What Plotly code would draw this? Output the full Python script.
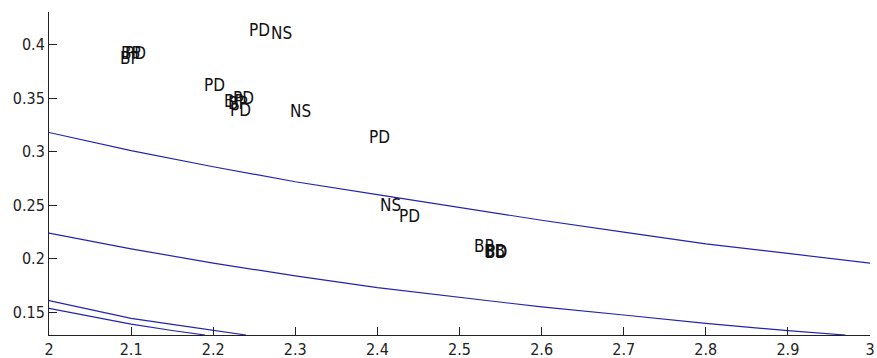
import plotly.graph_objects as go

# Curves
line1_x = [2.0, 2.1, 2.2, 2.3, 2.4, 2.5, 2.6, 2.7, 2.8, 2.9, 3.0]
line1_y = [0.318, 0.301, 0.286, 0.272, 0.260, 0.248, 0.236, 0.225, 0.214, 0.205, 0.196]

line2_x = [2.0, 2.1, 2.2, 2.3, 2.4, 2.5, 2.6, 2.7, 2.8, 2.9, 2.97]
line2_y = [0.224, 0.2093, 0.196, 0.184, 0.173, 0.164, 0.155, 0.1475, 0.1397, 0.1328, 0.1288]

line3_x = [2.0, 2.05, 2.1, 2.15, 2.2, 2.24]
line3_y = [0.161, 0.1525, 0.1444, 0.1387, 0.1334, 0.1288]

line4_x = [2.0, 2.05, 2.1, 2.15, 2.19]
line4_y = [0.1537, 0.146, 0.139, 0.133, 0.1288]

# Text labels
label_text = ["BP", "BP", "PD",
              "PD", "NS",
              "PD",
              "BP", "BP", "PD", "PD",
              "NS", "PD", "NS", "PD",
              "BP", "BB", "PD", "BD"]
label_x = [2.0853, 2.0865, 2.0914,
           2.2424, 2.2692,
           2.1872,
           2.2119, 2.2168, 2.2229, 2.2192,
           2.2923, 2.3882, 2.4019, 2.4247,
           2.5164, 2.5286, 2.5311, 2.5299]
label_y = [0.3878, 0.3925, 0.3925,
           0.4135, 0.4106,
           0.3626,
           0.3476, 0.3457, 0.3504, 0.3392,
           0.3383, 0.3142, 0.2503, 0.2404,
           0.2115, 0.2073, 0.2073, 0.2064]

x_ticks = [2.0, 2.1, 2.2, 2.3, 2.4, 2.5, 2.6, 2.7, 2.8, 2.9, 3.0]
x_ticklabels = ["2", "2.1", "2.2", "2.3", "2.4", "2.5", "2.6", "2.7", "2.8", "2.9", "3"]
y_ticks = [0.15, 0.2, 0.25, 0.3, 0.35, 0.4]
y_ticklabels = ["0.15", "0.2", "0.25", "0.3", "0.35", "0.4"]

FONT = "Liberation Sans Narrow, DejaVu Sans Condensed, Arial Narrow, Liberation Sans, sans-serif"
LINE_COLOR = "rgb(35,35,175)"

fig = go.Figure()
for xs, ys in [(line1_x, line1_y), (line2_x, line2_y), (line3_x, line3_y), (line4_x, line4_y)]:
    fig.add_trace(go.Scatter(x=xs, y=ys, mode="lines",
                             line=dict(color=LINE_COLOR, width=1.2),
                             showlegend=False, hoverinfo="skip", cliponaxis=True))

for t, x, y in zip(label_text, label_x, label_y):
    fig.add_annotation(x=x, y=y, text=t, showarrow=False,
                       xanchor="left", yanchor="middle",
                       font=dict(family=FONT, size=17, color="#111111"),
                       borderpad=0)

fig.update_layout(
    width=877, height=358,
    margin=dict(l=49, r=7, t=12, b=23, autoexpand=False),
    paper_bgcolor="white", plot_bgcolor="white",
    showlegend=False,
)
fig.update_xaxes(range=[2, 3], tickvals=x_ticks, ticktext=x_ticklabels,
                 showline=True, linecolor="#222222", linewidth=1,
                 ticks="inside", ticklen=8, tickcolor="#222222",
                 showgrid=False, zeroline=False, automargin=False,
                 tickfont=dict(family=FONT, size=16, color="#222222"))
fig.update_yaxes(range=[0.1288, 0.4306], tickvals=y_ticks, ticktext=y_ticklabels,
                 showline=True, linecolor="#222222", linewidth=1,
                 ticks="inside", ticklen=8, tickcolor="#222222",
                 showgrid=False, zeroline=False, automargin=False,
                 tickfont=dict(family=FONT, size=16, color="#222222"))

fig.write_html("out.html",
               config={"displayModeBar": False},
               post_script="document.body.style.margin='0';document.body.style.padding='0';")
